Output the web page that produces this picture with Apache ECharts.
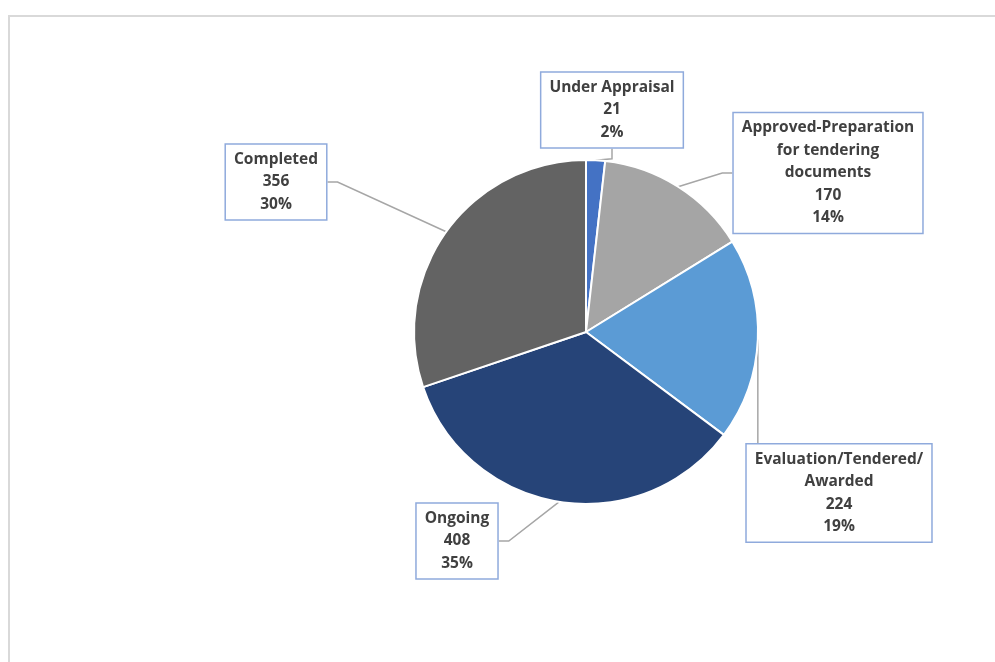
<!DOCTYPE html>
<html>
<head>
<meta charset="utf-8">
<script src="https://cdn.jsdelivr.net/npm/echarts@6/dist/echarts.min.js"></script>
<style>
  html, body { margin: 0; padding: 0; background: #fff; }
  #frame { position: absolute; left: 8px; top: 15px; width: 987px; height: 647px;
           border-top: 2px solid #d9d9d9; border-left: 2px solid #d9d9d9; box-sizing: border-box; }
  #chart { position: absolute; left: 0; top: 0; width: 995px; height: 662px; }
</style>
</head>
<body>
<div id="frame"></div>
<div id="chart"></div>
<script>
// Project status breakdown
const categories = [
  'Under Appraisal',
  'Approved-Preparation\nfor tendering\ndocuments',
  'Evaluation/Tendered/\nAwarded',
  'Ongoing',
  'Completed'
];
const counts = [21, 170, 224, 408, 356];
const colors = ['#4472C4', '#A5A5A5', '#5B9BD5', '#264478', '#636363'];
// label box centres (px)
const labelCentres = [[612, 110], [828, 173], [839, 493], [457, 541], [276, 182]];

const chart = echarts.init(document.getElementById('chart'), null, { renderer: 'canvas' });

chart.setOption({
  animation: false,
  series: [{
    type: 'pie',
    center: [586, 332],
    radius: 172,
    startAngle: 90,
    clockwise: true,
    data: categories.map((name, i) => ({
      name: name,
      value: counts[i],
      itemStyle: { color: colors[i] }
    })),
    itemStyle: { borderColor: '#fff', borderWidth: 2 },
    label: {
      show: true,
      formatter: p => p.name + '\n' + p.value + '\n' + Math.round(p.percent) + '%',
      color: '#404040',
      fontFamily: 'Open Sans',
      fontWeight: 'bold',
      fontSize: 15.5,
      lineHeight: 22.5,
      align: 'center',
      backgroundColor: '#fff',
      borderColor: '#8FAADC',
      borderWidth: 1.5,
      padding: [4, 8, 3, 8]
    },
    labelLine: {
      show: true,
      length: 10,
      length2: 10,
      lineStyle: { color: '#A6A6A6', width: 1.5 }
    },
    labelLayout: function (params) {
      const c = labelCentres[params.dataIndex];
      const out = {
        x: c[0],
        y: c[1],
        align: 'center',
        verticalAlign: 'middle'
      };
      // the evaluation label hangs straight down from its slice
      if (params.dataIndex === 2 && params.labelLinePoints) {
        const p0 = params.labelLinePoints[0];
        const boxTop = c[1] - params.labelRect.height / 2;
        out.labelLinePoints = [p0, [p0[0], boxTop], [p0[0], boxTop]];
      }
      return out;
    }
  }]
});
</script>
</body>
</html>
